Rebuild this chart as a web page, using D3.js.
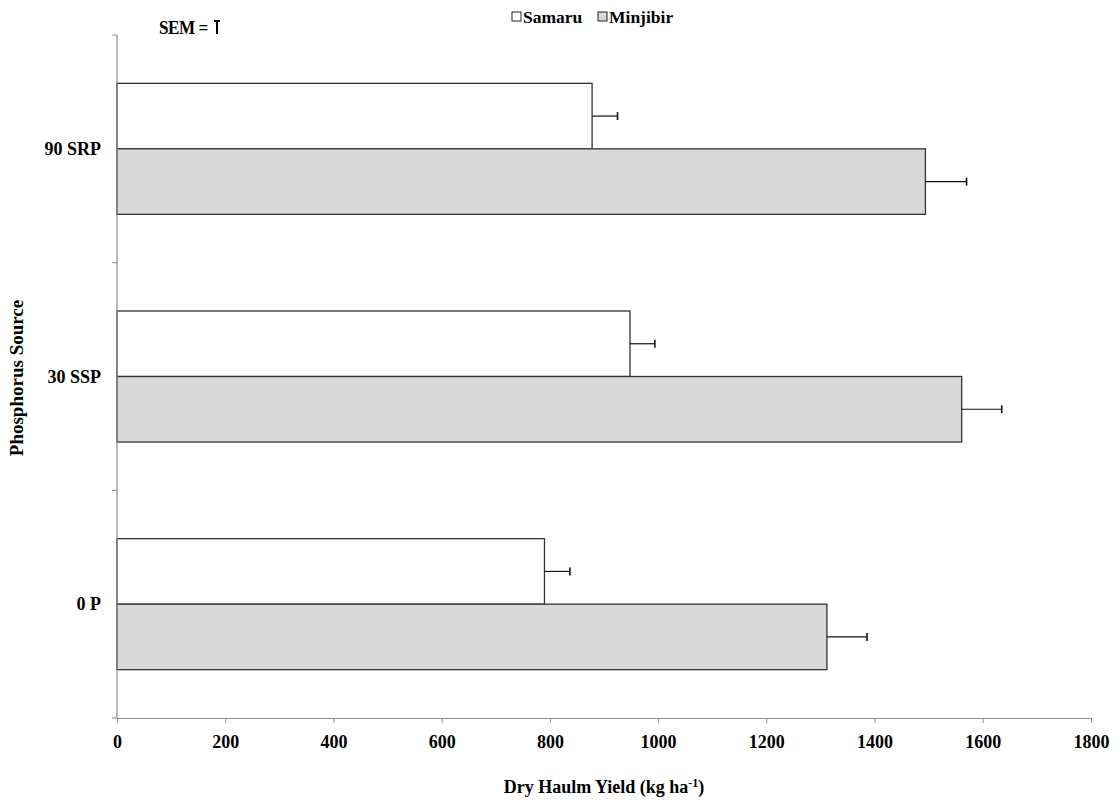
<!DOCTYPE html>
<html>
<head>
<meta charset="utf-8">
<script src="https://cdn.jsdelivr.net/npm/d3@7"></script>
<style>
  body { margin: 0; background: #fff; }
  svg text { font-family: "Liberation Serif", "Times New Roman", serif !important; font-weight: bold; fill: #000; }
</style>
</head>
<body>
<div id="chart"></div>
<script>
// data
const sources = ["90 SRP", "30 SSP", "0 P"];
const series = ["Samaru", "Minjibir"];
const samaru = [878, 948, 790];
const minjibir = [1494, 1561, 1312];
const samaruSem = [47, 46, 47];
const minjibirSem = [76, 74, 74];
const xTicks = [0, 200, 400, 600, 800, 1000, 1200, 1400, 1600, 1800];
const colors = { Samaru: "#ffffff", Minjibir: "#d9d9d9" };

const svg = d3.select("#chart").append("svg")
    .attr("width", 1119)
    .attr("height", 801);

const plotLeft = 117, plotRight = 1091, plotTop = 35, plotBottom = 718;

const x = d3.scaleLinear().domain([0, 1800]).range([plotLeft, plotRight]);
const y = d3.scaleBand().domain(sources).range([plotTop, plotBottom]).padding(0);
const ySub = d3.scaleBand().domain(series).range([0, y.bandwidth()])
    .paddingInner(0).paddingOuter(0.738);

// table for drawing
const rows = [];
sources.forEach(function(s, i) {
  rows.push({ src: s, ser: "Samaru", v: samaru[i], e: samaruSem[i] });
  rows.push({ src: s, ser: "Minjibir", v: minjibir[i], e: minjibirSem[i] });
});

// bars
svg.append("g").selectAll("rect")
  .data(rows)
  .enter()
  .append("rect")
    .attr("x", x(0))
    .attr("y", d => y(d.src) + ySub(d.ser))
    .attr("width", d => x(d.v) - x(0))
    .attr("height", ySub.bandwidth())
    .attr("fill", d => colors[d.ser])
    .attr("stroke", "#333")
    .attr("stroke-width", 1.3);

// error bars
const err = svg.append("g").attr("stroke", "#111").attr("stroke-width", 1.2);
rows.forEach(function(d) {
  const cy = y(d.src) + ySub(d.ser) + ySub.bandwidth() / 2;
  err.append("line").attr("x1", x(d.v)).attr("x2", x(d.v + d.e)).attr("y1", cy).attr("y2", cy);
  err.append("line").attr("x1", x(d.v + d.e)).attr("x2", x(d.v + d.e)).attr("y1", cy - 4).attr("y2", cy + 4)
    .attr("stroke-width", 1.6);
});

// x axis
const xAxis = svg.append("g")
  .attr("transform", "translate(0," + plotBottom + ")")
  .call(d3.axisBottom(x).tickValues(xTicks).tickFormat(d3.format("d"))
    .tickSize(5).tickSizeOuter(0).tickPadding(12));
xAxis.select(".domain").attr("stroke", "#8c8c8c").attr("stroke-width", 1.2);
xAxis.selectAll(".tick line").attr("stroke", "#8c8c8c");
xAxis.selectAll(".tick text").style("font-size", "18px");

// y axis: ticks on band edges, labels at band centres
const edges = sources.map(s => y(s)).concat([plotBottom]);
const yAx = svg.append("g");
yAx.append("line").attr("x1", plotLeft).attr("x2", plotLeft).attr("y1", plotTop).attr("y2", plotBottom)
  .attr("stroke", "#8c8c8c").attr("stroke-width", 1.2);
yAx.selectAll(".edge").data(edges).enter().append("line")
  .attr("x1", plotLeft - 5).attr("x2", plotLeft).attr("y1", d => d).attr("y2", d => d)
  .attr("stroke", "#8c8c8c");
yAx.selectAll(".lbl").data(sources).enter().append("text")
  .attr("x", 101)
  .attr("y", d => y(d) + y.bandwidth() / 2)
  .attr("dy", "0.35em")
  .attr("text-anchor", "end")
  .style("font-size", "18px")
  .text(d => d);

// axis titles
const xt = svg.append("text")
  .attr("x", 604).attr("y", 793)
  .attr("text-anchor", "middle")
  .style("font-size", "18px");
xt.append("tspan").text("Dry Haulm Yield (kg ha");
xt.append("tspan").attr("dy", -6).style("font-size", "12px").text("-1");
xt.append("tspan").attr("dy", 6).text(")");

svg.append("text")
  .attr("transform", "translate(23,378) rotate(-90)")
  .attr("text-anchor", "middle")
  .style("font-size", "19px")
  .text("Phosphorus Source");

// legend
const leg = svg.append("g").attr("transform", "translate(512,10)");
series.forEach(function(s, i) {
  const g = leg.append("g").attr("transform", "translate(" + (i * 86) + ",0)");
  g.append("rect").attr("x", 0).attr("y", 2).attr("width", 9).attr("height", 9)
    .attr("fill", colors[s]).attr("stroke", "#222").attr("stroke-width", 1);
  g.append("text").attr("x", 11).attr("y", 13).style("font-size", "17.5px").text(s);
});

// SEM key
svg.append("text")
  .attr("transform", "translate(159,34) scale(0.9,1)")
  .style("font-size", "19px")
  .style("letter-spacing", "-0.5px")
  .text("SEM =");
const sem = svg.append("g").attr("stroke", "#000").attr("stroke-width", 2);
sem.append("line").attr("x1", 217).attr("x2", 217).attr("y1", 21).attr("y2", 34);
sem.append("line").attr("x1", 214).attr("x2", 220).attr("y1", 21).attr("y2", 21);
</script>
</body>
</html>
